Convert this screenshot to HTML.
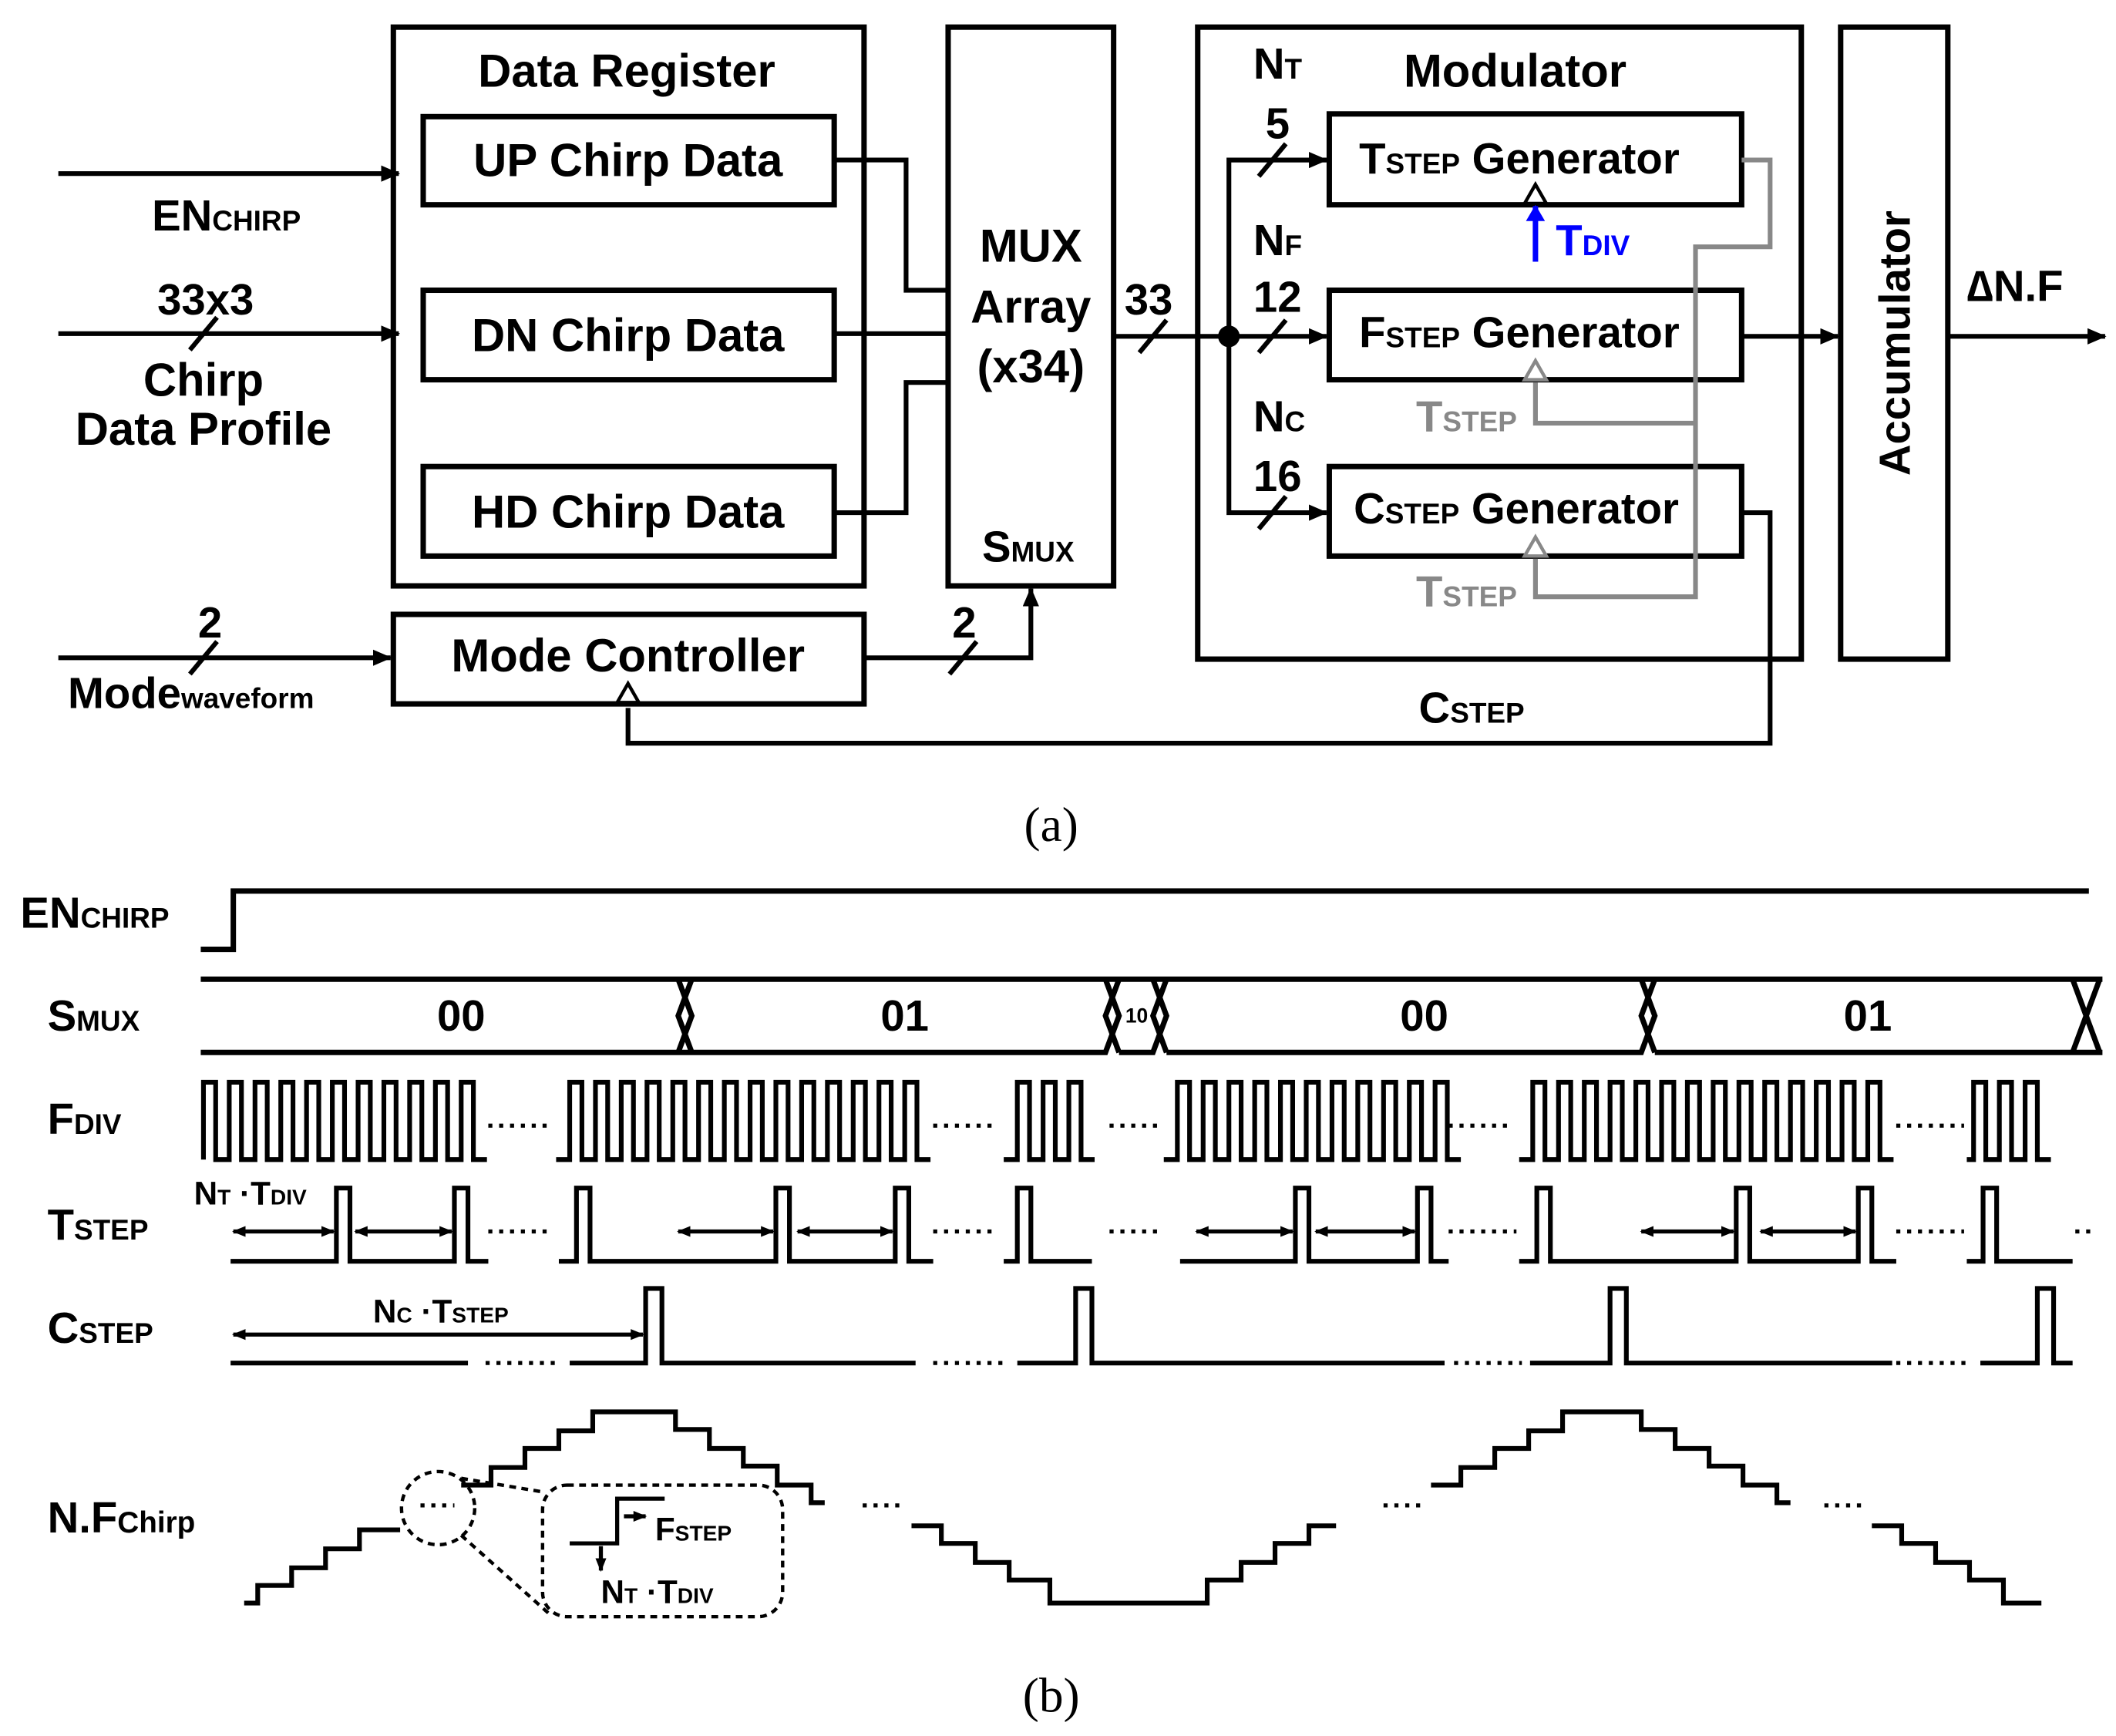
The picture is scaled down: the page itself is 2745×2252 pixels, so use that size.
<!DOCTYPE html>
<html><head><meta charset="utf-8"><style>
html,body{margin:0;padding:0;background:#fff}
svg{display:block}
text{font-family:"Liberation Sans",Arial,sans-serif;font-weight:bold;fill:#000}
.s{font-family:"Liberation Serif",serif;font-weight:normal}
</style></head><body>
<svg width="2745" height="2252" viewBox="0 0 1560 1280" preserveAspectRatio="none" xmlns="http://www.w3.org/2000/svg">
<defs>
<marker id="a" markerWidth="14" markerHeight="12" refX="13" refY="6" orient="auto" markerUnits="userSpaceOnUse"><path d="M0,0 L14,6 L0,12 z" fill="#000"/></marker>
<marker id="ab" markerWidth="12" markerHeight="14" refX="11" refY="7" orient="auto" markerUnits="userSpaceOnUse"><path d="M0,0 L12,7 L0,14 z" fill="#00f"/></marker>
<marker id="da" markerWidth="10" markerHeight="10" refX="9" refY="5" orient="auto-start-reverse" markerUnits="userSpaceOnUse"><path d="M0,1 L10,5 L0,9 z" fill="#000"/></marker>
</defs>
<g fill="none" stroke="#000" stroke-width="4">
<rect x="290" y="20" width="347" height="412"/>
<rect x="312" y="86" width="303" height="65"/>
<rect x="312" y="214" width="303" height="66"/>
<rect x="312" y="344" width="303" height="66"/>
<rect x="699" y="20" width="122" height="412"/>
<rect x="883" y="20" width="445" height="466"/>
<rect x="980" y="84" width="304" height="67"/>
<rect x="980" y="214" width="304" height="66"/>
<rect x="980" y="344" width="304" height="66"/>
<rect x="1357" y="20" width="79" height="466"/>
<rect x="290" y="453" width="347" height="66"/>
</g>
<g fill="none" stroke="#000" stroke-width="3.5">
<line x1="43" y1="128" x2="294" y2="128" marker-end="url(#a)"/>
<line x1="43" y1="246" x2="294" y2="246" marker-end="url(#a)"/>
<line x1="43" y1="485" x2="288" y2="485" marker-end="url(#a)"/>
<line x1="140" y1="258" x2="160" y2="234"/>
<line x1="140" y1="497" x2="160" y2="473"/>
<polyline points="615,118 668,118 668,214 699,214"/>
<line x1="615" y1="246" x2="699" y2="246"/>
<polyline points="615,378 668,378 668,282 699,282"/>
<polyline points="637,485 760,485 760,434" marker-end="url(#a)"/>
<line x1="700" y1="497" x2="720" y2="473"/>
<line x1="821" y1="248" x2="906" y2="248"/>
<line x1="906" y1="248" x2="978" y2="248" marker-end="url(#a)"/>
<line x1="840" y1="260" x2="860" y2="236"/>
<polyline points="978,118 906,118 906,378 978,378" marker-end="url(#a)"/>
<line x1="906" y1="118" x2="978" y2="118" marker-end="url(#a)"/>
<line x1="928" y1="130" x2="948" y2="106"/>
<line x1="928" y1="260" x2="948" y2="236"/>
<line x1="928" y1="390" x2="948" y2="366"/>
<line x1="1284" y1="248" x2="1355" y2="248" marker-end="url(#a)"/>
<line x1="1436" y1="248" x2="1552" y2="248" marker-end="url(#a)"/>
<polyline points="1284,378 1305,378 1305,548 463,548 463,522"/>
</g>
<circle cx="906" cy="248" r="8" fill="#000"/>
<path d="M463,504 L455,518 L471,518 z" fill="#fff" stroke="#000" stroke-width="2.5"/>
<g fill="none" stroke="#888" stroke-width="3.5">
<polyline points="1284,118 1305,118 1305,182 1250,182 1250,440 1132,440 1132,412"/>
<polyline points="1250,312 1132,312 1132,282"/>
</g>
<path d="M1132,266 L1124,280 L1140,280 z" fill="#fff" stroke="#888" stroke-width="2.5"/>
<path d="M1132,396 L1124,410 L1140,410 z" fill="#fff" stroke="#888" stroke-width="2.5"/>
<path d="M1132,136 L1124,150 L1140,150 z" fill="#fff" stroke="#000" stroke-width="2.5"/>
<line x1="1132" y1="193" x2="1132" y2="152" stroke="#00f" stroke-width="4" marker-end="url(#ab)"/>
<g font-size="34" text-anchor="middle">
<text x="462" y="64">Data Register</text>
<text x="463" y="130">UP Chirp Data</text>
<text x="463" y="259">DN Chirp Data</text>
<text x="463" y="389">HD Chirp Data</text>
<text x="463" y="495">Mode Controller</text>
<text x="760" y="193">MUX</text>
<text x="760" y="238">Array</text>
<text x="760" y="282">(x34)</text>
<text x="1117" y="64">Modulator</text>
<text x="150" y="292">Chirp</text>
<text x="150" y="328">Data Profile</text>
</g>
<g font-size="32">
<text x="1002" y="128">T<tspan font-size="21">STEP</tspan> Generator</text>
<text x="1002" y="256">F<tspan font-size="21">STEP</tspan> Generator</text>
<text x="998" y="386">C<tspan font-size="21">STEP</tspan> Generator</text>
<text x="112" y="170">EN<tspan font-size="21">CHIRP</tspan></text>
<text x="116" y="232">33x3</text>
<text x="146" y="470">2</text>
<text x="50" y="522">Mode<tspan font-size="21">waveform</tspan></text>
<text x="702" y="470">2</text>
<text x="829" y="232">33</text>
<text x="724" y="414">S<tspan font-size="21">MUX</tspan></text>
<text x="924" y="58">N<tspan font-size="21">T</tspan></text>
<text x="933" y="102">5</text>
<text x="924" y="188">N<tspan font-size="21">F</tspan></text>
<text x="924" y="230">12</text>
<text x="924" y="318">N<tspan font-size="21">C</tspan></text>
<text x="924" y="362">16</text>
<text x="1046" y="533">C<tspan font-size="21">STEP</tspan></text>
<text x="1450" y="222">∆N.F</text>
<text x="1147" y="188" style="fill:#00f">T<tspan font-size="21" style="fill:#00f">DIV</tspan></text>
<text x="1044" y="318" style="fill:#888">T<tspan font-size="21" style="fill:#888">STEP</tspan></text>
<text x="1044" y="447" style="fill:#888">T<tspan font-size="21" style="fill:#888">STEP</tspan></text>
<text transform="translate(1408,253) rotate(-90)" text-anchor="middle">Accumulator</text>
</g>
<text class="s" x="775" y="620" font-size="36" text-anchor="middle">(a)</text>
<text class="s" x="775" y="1262" font-size="36" text-anchor="middle">(b)</text>

<g font-size="32">
<text x="15" y="684">EN<tspan font-size="21">CHIRP</tspan></text>
<text x="35" y="760">S<tspan font-size="21">MUX</tspan></text>
<text x="35" y="836">F<tspan font-size="21">DIV</tspan></text>
<text x="35" y="914">T<tspan font-size="21">STEP</tspan></text>
<text x="35" y="990">C<tspan font-size="21">STEP</tspan></text>
<text x="35" y="1130">N.F<tspan font-size="22">Chirp</tspan></text>
<text x="340" y="760" text-anchor="middle">00</text>
<text x="667" y="760" text-anchor="middle">01</text>
<text x="1050" y="760" text-anchor="middle">00</text>
<text x="1377" y="760" text-anchor="middle">01</text>
</g>
<text x="838" y="754" font-size="15" text-anchor="middle">10</text>
<g fill="none" stroke="#000" stroke-width="4">
<polyline points="148,700 172,700 172,657 1540,657"/>
<path d="M148,722 H500 L510,749 L500,776 H148 M500,722 H510 L500,749 L510,776 H500
M510,722 H815 L825,749 L815,776 H510 M815,722 H825 L815,749 L825,776
M825,722 H850 L860,749 L850,776 H825 M850,722 H860 L850,749 L860,776
M860,722 H1210 L1220,749 L1210,776 H860 M1210,722 H1220 L1210,749 L1220,776
M1220,722 H1528 L1538,749 L1528,776 H1220 M1528,722 H1550 M1528,776 H1550 M1538,749 L1548,722 M1538,749 L1548,776"/>
</g>
<g fill="none" stroke="#000" stroke-width="3.5">
<path d="M150,855 v-57h9v57h10 v-57h9v57h10 v-57h9v57h10 v-57h9v57h10 v-57h9v57h10 v-57h9v57h10 v-57h9v57h10 v-57h9v57h10 v-57h9v57h10 v-57h9v57h10 v-57h9v57h10"/>
<path d="M410,855 h10 v-57h9v57h10 v-57h9v57h10 v-57h9v57h10 v-57h9v57h10 v-57h9v57h10 v-57h9v57h10 v-57h9v57h10 v-57h9v57h10 v-57h9v57h10 v-57h9v57h10 v-57h9v57h10 v-57h9v57h10 v-57h9v57h10 v-57h9v57h10"/>
<path d="M740,855 h10 v-57h9v57h10 v-57h9v57h10 v-57h9v57h10"/>
<path d="M858,855 h10 v-57h9v57h10 v-57h9v57h10 v-57h9v57h10 v-57h9v57h10 v-57h9v57h10 v-57h9v57h10 v-57h9v57h10 v-57h9v57h10 v-57h9v57h10 v-57h9v57h10 v-57h9v57h10"/>
<path d="M1120,855 h10 v-57h9v57h10 v-57h9v57h10 v-57h9v57h10 v-57h9v57h10 v-57h9v57h10 v-57h9v57h10 v-57h9v57h10 v-57h9v57h10 v-57h9v57h10 v-57h9v57h10 v-57h9v57h10 v-57h9v57h10 v-57h9v57h10 v-57h9v57h10"/>
<path d="M1450,855 h5 v-57h9v57h10 v-57h9v57h10 v-57h9v57h10"/>
<path d="M170,930 H248 v-54 h10 v54 H335 v-54 h10 v54 H360 M412,930 H425 v-54 h10 v54 H572 v-54 h10 v54 H660 v-54 h10 v54 H688 M740,930 H750 v-54 h10 v54 H805
M870,930 H955 v-54 h10 v54 H1045 v-54 h10 v54 H1068 M1120,930 H1133 v-54 h10 v54 H1280 v-54 h10 v54 H1370 v-54 h10 v54 H1398 M1450,930 H1462 v-54 h10 v54 H1528"/>
<path d="M170,1005 H345 M420,1005 H476 v-55 h12 v55 H675 M750,1005 H793 v-55 h12 v55 H1065 M1128,1005 H1187 v-55 h12 v55 H1395 M1460,1005 H1502 v-55 h12 v55 H1528"/>
<path d="M180,1182 h10 v-13 h25 v-13 h25 v-14 h25 v-14 h30"/>
<path d="M340,1095 h22 v-13 h25 v-14 h25 v-13 h25 v-14 h25 h36 v13 h25 v14 h25 v13 h25 v14 h25 v13 h10"/>
<path d="M672,1125 h22 v13 h25 v14 h25 v13 h30 v17 h116 v-17 h25 v-13 h25 v-14 h25 v-13 h20"/>
<path d="M1055,1095 h22 v-13 h25 v-14 h25 v-13 h25 v-14 h28 h30 v13 h25 v14 h25 v13 h25 v14 h25 v13 h10"/>
<path d="M1380,1125 h22 v13 h25 v14 h25 v13 h25 v17 h28"/>
</g>
<g stroke="#000" stroke-width="3" fill="none">
<line x1="172" y1="908" x2="246" y2="908" marker-start="url(#da)" marker-end="url(#da)"/>
<line x1="262" y1="908" x2="333" y2="908" marker-start="url(#da)" marker-end="url(#da)"/>
<line x1="500" y1="908" x2="570" y2="908" marker-start="url(#da)" marker-end="url(#da)"/>
<line x1="588" y1="908" x2="658" y2="908" marker-start="url(#da)" marker-end="url(#da)"/>
<line x1="882" y1="908" x2="953" y2="908" marker-start="url(#da)" marker-end="url(#da)"/>
<line x1="970" y1="908" x2="1043" y2="908" marker-start="url(#da)" marker-end="url(#da)"/>
<line x1="1210" y1="908" x2="1278" y2="908" marker-start="url(#da)" marker-end="url(#da)"/>
<line x1="1298" y1="908" x2="1368" y2="908" marker-start="url(#da)" marker-end="url(#da)"/>
<line x1="172" y1="984" x2="474" y2="984" marker-start="url(#da)" marker-end="url(#da)"/>
</g>
<g stroke="#000" stroke-width="3" stroke-dasharray="3,5" fill="none">
<line x1="360" y1="830" x2="405" y2="830"/><line x1="688" y1="830" x2="735" y2="830"/>
<line x1="818" y1="830" x2="855" y2="830"/><line x1="1068" y1="830" x2="1115" y2="830"/>
<line x1="1398" y1="830" x2="1448" y2="830"/>
<line x1="360" y1="908" x2="408" y2="908"/><line x1="688" y1="908" x2="736" y2="908"/>
<line x1="818" y1="908" x2="858" y2="908"/><line x1="1068" y1="908" x2="1118" y2="908"/>
<line x1="1398" y1="908" x2="1448" y2="908"/><line x1="1530" y1="908" x2="1545" y2="908"/>
<line x1="358" y1="1005" x2="410" y2="1005"/><line x1="688" y1="1005" x2="740" y2="1005"/>
<line x1="1072" y1="1005" x2="1122" y2="1005"/><line x1="1398" y1="1005" x2="1450" y2="1005"/>
<line x1="310" y1="1110" x2="335" y2="1110"/><line x1="636" y1="1110" x2="665" y2="1110"/>
<line x1="1020" y1="1110" x2="1050" y2="1110"/><line x1="1345" y1="1110" x2="1375" y2="1110"/>
</g>
<g stroke="#000" stroke-width="2.5" stroke-dasharray="5,4" fill="none">
<circle cx="323" cy="1112" r="27"/>
<rect x="400" y="1095" width="177" height="97" rx="18"/>
<line x1="340" y1="1090" x2="400" y2="1100"/>
<line x1="340" y1="1132" x2="405" y2="1190"/>
</g>
<g stroke="#000" stroke-width="3" fill="none">
<polyline points="420,1138 455,1138 455,1105 490,1105"/>
<line x1="460" y1="1118" x2="476" y2="1118" marker-end="url(#da)"/>
<line x1="443" y1="1140" x2="443" y2="1158" marker-end="url(#da)"/>
</g>
<g font-size="24">
<text x="143" y="888">N<tspan font-size="16">T</tspan> ·T<tspan font-size="16">DIV</tspan></text>
<text x="275" y="975">N<tspan font-size="16">C</tspan> ·T<tspan font-size="16">STEP</tspan></text>
<text x="483" y="1136">F<tspan font-size="16">STEP</tspan></text>
<text x="443" y="1182">N<tspan font-size="16">T</tspan> ·T<tspan font-size="16">DIV</tspan></text>
</g>
</svg>
</body></html>
